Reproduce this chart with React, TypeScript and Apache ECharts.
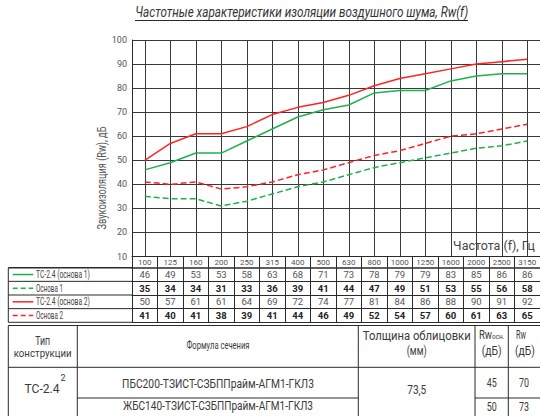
import React, { useEffect, useRef } from 'react';
import * as echarts from 'echarts';

const FONT = 'Roboto';

const freqs = ['100', '125', '160', '200', '250', '315', '400', '500', '630', '800', '1000', '1250', '1600', '2000', '2500', '3150'];
const seriesNames = ['ТС-2.4 (основа 1)', 'Основа 1', 'ТС-2.4 (основа 2)', 'Основа 2'];
const ts1 = [46, 49, 53, 53, 58, 63, 68, 71, 73, 78, 79, 79, 83, 85, 86, 86];
const base1 = [35, 34, 34, 31, 33, 36, 39, 41, 44, 47, 49, 51, 53, 55, 56, 58];
const ts2 = [50, 57, 61, 61, 64, 69, 72, 74, 77, 81, 84, 86, 88, 90, 91, 92];
const base2 = [41, 40, 41, 38, 39, 41, 44, 46, 49, 52, 54, 57, 60, 61, 63, 65];
const seriesColors = ['#1fb04f', '#1fb04f', '#ff2424', '#ff2424'];
const seriesDashed = [false, true, false, true];
const rows = [ts1, base1, ts2, base2];

const titleText = 'Частотные характеристики изоляции воздушного шума, Rw(f)';
const yName = 'Звукоизоляция (Rw), дБ';
const xName = 'Частота (f), Гц';

const typeHeader = ['Тип', 'конструкции'];
const formulaHeader = 'Формула сечения';
const thickHeader = ['Толщина облицовки', '(мм)'];
const constructionType = 'ТС-2.4';
const constructionSup = '2';
const formulas = ['ПБС200-ТЗИСТ-СЗБППрайм-АГМ1-ГКЛ3', 'ЖБС140-ТЗИСТ-СЗБППрайм-АГМ1-ГКЛ3'];
const thickness = '73,5';
const rwBase = [45, 50];
const rwTotal = [70, 73];

const GRID_LEFT = 132;
const GRID_TOP = 40;
const GRID_BOTTOM_Y = 256.5;
const HEAD_H = 11.2;
const ROW_H = 13.65;
const LINE = '#2a2a2a';
const TXT = '#3a3a3a';

let measureCtx: CanvasRenderingContext2D | null = null;
function measure(text: string, fontSize: number, fontStyle = 'normal') {
  if (!measureCtx) measureCtx = document.createElement('canvas').getContext('2d');
  if (!measureCtx) return text.length * fontSize * 0.5;
  measureCtx.font = `${fontStyle} normal ${fontSize}px ${FONT}`;
  return measureCtx.measureText(text).width;
}

function txt(x: number, y: number, text: string, fontSize: number, target: number | null, extra: any = {}) {
  const st = (extra.style && extra.style.fontStyle) || 'normal';
  const scaleX = target ? target / measure(text, fontSize, st) : 1;
  return {
    type: 'text',
    x,
    y,
    silent: true,
    scaleX,
    ...extra,
    style: {
      text,
      fill: TXT,
      fontSize,
      fontFamily: FONT,
      textAlign: 'center',
      align: 'center',
      textVerticalAlign: 'middle',
      verticalAlign: 'middle',
      ...(extra.style || {}),
    },
  };
}

function ln(x1: number, y1: number, x2: number, y2: number, w = 1, stroke = LINE, dash: any = null) {
  const style: any = { stroke, lineWidth: w };
  if (dash) style.lineDash = dash;
  return { type: 'line', silent: true, shape: { x1, y1, x2, y2 }, style };
}

export default function App() {
  const ref = useRef<HTMLDivElement>(null);
  useEffect(() => {
    const chart = echarts.init(ref.current!, null, { renderer: 'svg' });
    const tableTop = GRID_BOTTOM_Y + HEAD_H;
    const tableBottom = tableTop + 4 * ROW_H;

    const xAxes: any[] = [
      {
        type: 'category',
        data: freqs,
        boundaryGap: true,
        position: 'bottom',
        axisLine: { show: true, lineStyle: { color: LINE, width: 1 } },
        axisTick: { show: true, interval: 0, length: HEAD_H, lineStyle: { color: LINE } },
        axisLabel: { interval: 0, margin: HEAD_H / 2, verticalAlign: 'middle', fontSize: 8, color: '#555', fontFamily: FONT },
        splitLine: { show: true, interval: 0, alignWithLabel: true, lineStyle: { color: '#3a3a3a', width: 1 } },
      },
      ...rows.map((row, k) => ({
        type: 'category',
        data: freqs,
        boundaryGap: true,
        position: 'bottom',
        offset: HEAD_H + k * ROW_H,
        axisLine: { show: true, lineStyle: { color: LINE, width: k === 0 ? 1.6 : 1 } },
        axisTick: { show: true, interval: 0, length: ROW_H, lineStyle: { color: LINE } },
        axisLabel: {
          interval: 0,
          margin: ROW_H / 2,
          verticalAlign: 'middle',
          fontSize: 9.5,
          color: k % 2 === 1 ? '#222' : '#555',
          fontWeight: k % 2 === 1 ? 'bold' : 'normal',
          fontFamily: FONT,
          formatter: (_v: string, i: number) => String(row[i]),
        },
        splitLine: { show: false },
      })),
      {
        type: 'category',
        data: freqs,
        position: 'bottom',
        offset: HEAD_H + 4 * ROW_H,
        axisLine: { show: true, lineStyle: { color: LINE, width: 1 } },
        axisTick: { show: false },
        axisLabel: { show: false },
        splitLine: { show: false },
      },
    ];

    const legendWidths = [54, 27, 54, 27];
    const legendEls: any[] = [];
    seriesNames.forEach((name, k) => {
      const cy = tableTop + (k + 0.5) * ROW_H;
      legendEls.push(ln(12.7, cy, 33.3, cy, 1.5, seriesColors[k], seriesDashed[k] ? [5, 3] : null));
      const t = txt(36, cy, name, 10, legendWidths[k], { style: { textAlign: 'left', align: 'left', fill: '#444' } });
      legendEls.push(t);
    });

    const graphic: any[] = [
      txt(301.7, 12.5, titleText, 14, 333, { style: { fontStyle: 'italic', fill: '#333' } }),
      ln(135, 20.5, 468, 20.5, 1),
      txt(101.7, 178, yName, 12, 103, { rotation: Math.PI / 2, style: { fill: '#555' } }),
      txt(494, 245, xName, 13, 82, { style: { fill: '#444' } }),
      // legend column borders
      ln(8.3, tableTop, 8.3, tableBottom),
      ln(8.3, tableTop, GRID_LEFT, tableTop, 1.6),
      ln(8.3, tableTop + ROW_H, GRID_LEFT, tableTop + ROW_H),
      ln(8.3, tableTop + 2 * ROW_H, GRID_LEFT, tableTop + 2 * ROW_H),
      ln(8.3, tableTop + 3 * ROW_H, GRID_LEFT, tableTop + 3 * ROW_H),
      ln(8.3, tableBottom, GRID_LEFT, tableBottom),
      ...legendEls,
      // bottom table frame
      ln(8.3, 325.5, 540, 325.5),
      ln(8.3, 367.3, 540, 367.3),
      ln(77.3, 398, 358.3, 398),
      ln(475, 398, 540, 398),
      ln(8.3, 325.5, 8.3, 416),
      ln(77.3, 325.5, 77.3, 416),
      ln(358.3, 325.5, 358.3, 416),
      ln(475, 325.5, 475, 416),
      ln(508.3, 325.5, 508.3, 416),
      // header texts
      txt(42.7, 341.3, typeHeader[0], 12, 15),
      txt(42.7, 353.3, typeHeader[1], 11, 58),
      txt(218, 346, formulaHeader, 10.5, 63),
      txt(416.7, 334.7, thickHeader[0], 13.5, 108),
      txt(416.7, 351.3, thickHeader[1], 12, 20),
      {
        type: 'text', x: 491.7, y: 334.7, silent: true, scaleX: 0.8,
        style: {
          text: '{a|Rw}{b|осн.}',
          align: 'center', textAlign: 'center', verticalAlign: 'middle', textVerticalAlign: 'middle',
          fontFamily: FONT, fill: TXT,
          rich: { a: { fontSize: 12, fontFamily: FONT, fill: TXT, color: TXT }, b: { fontSize: 8, fontFamily: FONT, fill: TXT, color: TXT, padding: [4, 0, 0, 0] } },
        },
      },
      txt(491.7, 351.3, '(дБ)', 12, 20),
      txt(521, 334.7, 'Rw', 12, 10),
      txt(525, 351.3, '(дБ)', 12, 20),
      // body
      txt(42, 388.5, constructionType, 13.5, 35),
      txt(63, 378, constructionSup, 9, null),
      txt(218, 384.3, formulas[0], 12, 192),
      txt(218, 406.5, formulas[1], 12, 190),
      txt(416.7, 389.7, thickness, 13.5, 19),
      txt(491.7, 382, String(rwBase[0]), 13.5, 10),
      txt(524, 382, String(rwTotal[0]), 13.5, 10),
      txt(491.7, 406.5, String(rwBase[1]), 13.5, 10),
      txt(524, 406.5, String(rwTotal[1]), 13.5, 10),
    ];

    const option: any = {
      animation: false,
      backgroundColor: '#ffffff',
      textStyle: { fontFamily: FONT },
      grid: { left: GRID_LEFT, top: GRID_TOP, right: 0, bottom: 416 - GRID_BOTTOM_Y, containLabel: false },
      xAxis: xAxes,
      yAxis: {
        type: 'value',
        min: 10,
        max: 100,
        interval: 10,
        axisLine: { show: true, lineStyle: { color: LINE, width: 1 } },
        axisTick: { show: false },
        axisLabel: { fontSize: 9, color: '#555', margin: 5, fontFamily: FONT },
        splitLine: { show: true, lineStyle: { color: '#3a3a3a', width: 1 } },
      },
      series: rows.map((row, k) => ({
        name: seriesNames[k],
        type: 'line',
        xAxisIndex: 0,
        data: row,
        symbol: 'none',
        color: seriesColors[k],
        lineStyle: { color: seriesColors[k], width: 1.5, type: seriesDashed[k] ? [6, 3] : 'solid' },
        z: 3,
      })),
      graphic,
    };
    chart.setOption(option);
    return () => chart.dispose();
  }, []);
  return <div ref={ref} style={{ position: 'fixed', left: 0, top: 0, width: 540, height: 416, background: '#fff' }} />;
}
